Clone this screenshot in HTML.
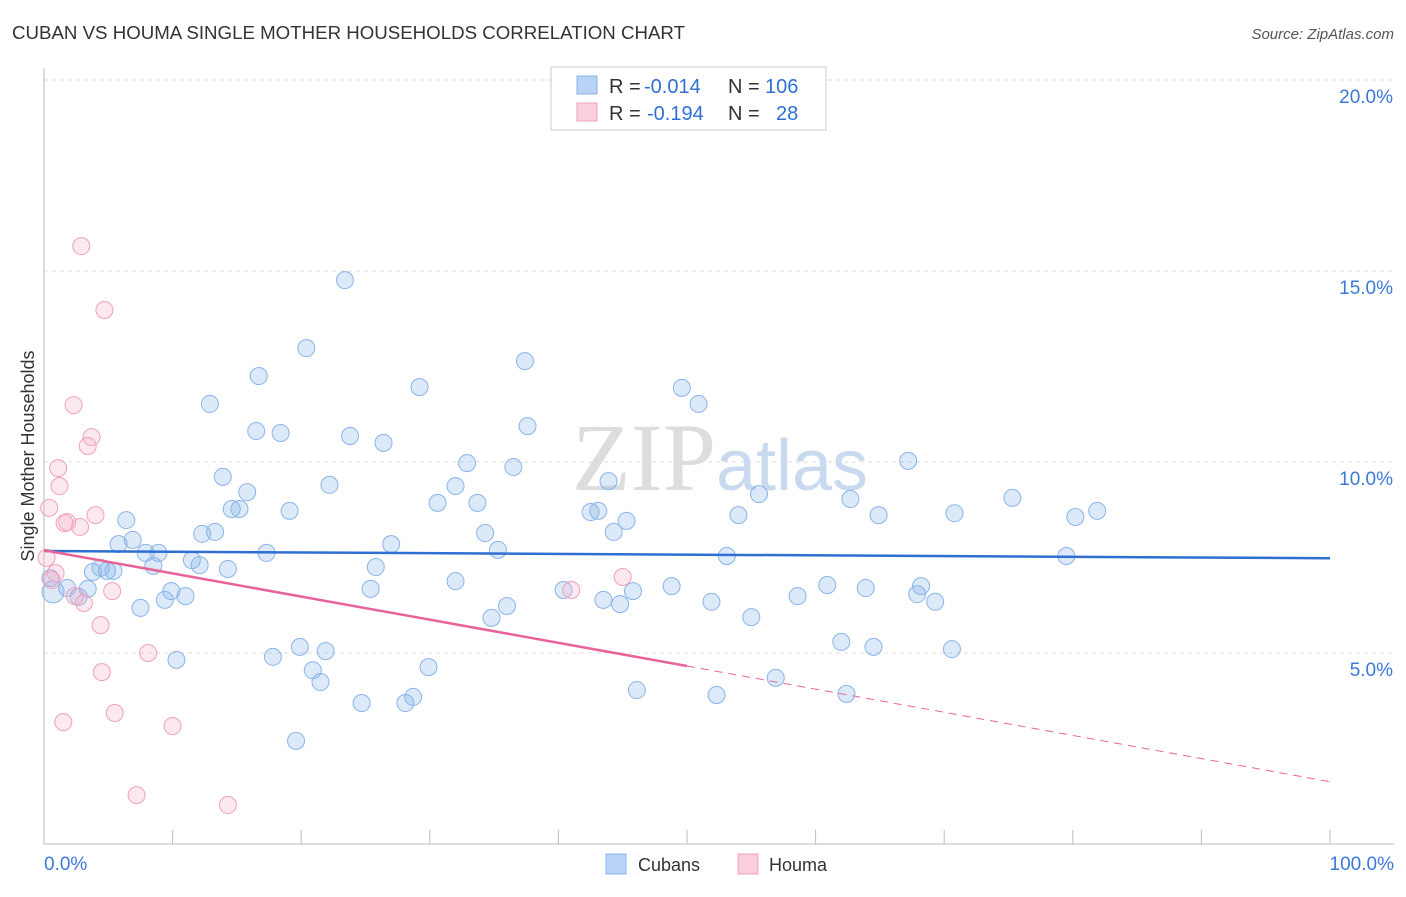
<!DOCTYPE html>
<html><head><meta charset="utf-8"><style>
body{margin:0;background:#fff;font-family:"Liberation Sans",sans-serif;}
</style></head><body>
<svg width="1406" height="892" xmlns="http://www.w3.org/2000/svg" font-family="Liberation Sans, sans-serif">
<text x="12" y="39" font-size="18" fill="#333" textLength="673" lengthAdjust="spacingAndGlyphs">CUBAN VS HOUMA SINGLE MOTHER HOUSEHOLDS CORRELATION CHART</text>
<text x="1394" y="39" font-size="15" fill="#555" text-anchor="end" font-style="italic">Source: ZipAtlas.com</text>
<g id="grid"></g>
<text x="720" y="490" font-size="96" text-anchor="middle" fill="#ddd" font-family="Liberation Serif, serif">ZIP<tspan fill="#c9daf0" font-family="Liberation Sans, sans-serif" font-size="72">atlas</tspan></text>
<line x1="44" y1="844" x2="1394" y2="844" stroke="#bbb"/>
<line x1="44" y1="68" x2="44" y2="844" stroke="#bbb"/>
<text transform="translate(34,456) rotate(-90)" font-size="18" fill="#333" text-anchor="middle">Single Mother Households</text>
<text x="44" y="870" font-size="19" fill="#3b78d8">0.0%</text>
<text x="1394" y="870" font-size="19" fill="#3b78d8" text-anchor="end">100.0%</text>
<g id="points"></g>
<g id="lines"></g>
<g font-size="20">
<rect x="551" y="67" width="275" height="63" fill="#fff" stroke="#ccc"/>
<rect x="577" y="76" width="20" height="18" fill="#b8d3f5" stroke="#8ab4e8"/>
<rect x="577" y="103" width="20" height="18" fill="#fbd0de" stroke="#f0a0bc"/>
<text x="609" y="93" fill="#333">R =</text>
<text x="644" y="93" fill="#2f6fd4">-0.014</text>
<text x="728" y="93" fill="#333">N =</text>
<text x="765" y="93" fill="#2f6fd4">106</text>
<text x="609" y="120" fill="#333">R =</text>
<text x="647" y="120" fill="#2f6fd4">-0.194</text>
<text x="728" y="120" fill="#333">N =</text>
<text x="776" y="120" fill="#2f6fd4">28</text>
</g>
<g>
<rect x="606" y="854" width="20" height="20" fill="#b8d3f5" stroke="#8ab4e8"/>
<text x="638" y="871" font-size="18" fill="#333">Cubans</text>
<rect x="738" y="854" width="20" height="20" fill="#fbd0de" stroke="#f0a0bc"/>
<text x="769" y="871" font-size="18" fill="#333">Houma</text>
</g>
</svg>
<script>
const yTicks=[5,10,15,20];
const yTickLabels=["5.0%","10.0%","15.0%","20.0%"];
const cubanX=[23.4,20.4,16.7,37.4,29.2,49.6,50.9,12.9,37.6,16.5,18.4,23.8,26.4,32.9,36.5,67.2,13.9,22.2,32.0,43.9,15.8,55.6,62.7,75.3,30.6,33.7,14.6,15.2,19.1,42.5,43.1,54.0,64.9,70.8,81.9,80.2,6.4,45.3,44.3,12.3,13.3,34.3,6.9,5.8,27.0,7.9,8.9,17.3,35.3,53.1,79.5,11.5,8.5,12.1,14.3,25.8,3.8,4.4,4.9,5.4,0.5,1.8,3.4,32.0,9.9,25.4,40.4,45.8,48.8,60.9,63.9,68.2,67.9,0.7,2.7,11.0,9.4,7.5,36.0,43.5,44.8,51.9,58.6,69.3,34.8,55.0,62.0,64.5,70.6,19.9,21.9,10.3,17.8,20.9,29.9,21.5,56.9,46.1,52.3,62.4,24.7,28.1,28.7,19.6];
const cubanY=[14.76,12.98,12.25,12.64,11.96,11.94,11.52,11.52,10.94,10.81,10.76,10.68,10.50,9.97,9.87,10.03,9.61,9.40,9.37,9.50,9.21,9.16,9.03,9.06,8.93,8.93,8.77,8.77,8.72,8.69,8.72,8.61,8.61,8.66,8.72,8.56,8.48,8.46,8.17,8.12,8.17,8.14,7.96,7.85,7.85,7.62,7.62,7.62,7.70,7.54,7.54,7.43,7.28,7.30,7.20,7.25,7.12,7.23,7.15,7.15,6.96,6.70,6.68,6.88,6.62,6.68,6.65,6.62,6.75,6.78,6.70,6.75,6.54,6.60,6.47,6.49,6.39,6.18,6.23,6.39,6.28,6.34,6.49,6.34,5.92,5.94,5.29,5.16,5.10,5.16,5.05,4.82,4.90,4.55,4.63,4.24,4.35,4.03,3.90,3.93,3.69,3.69,3.85,2.70];
const houmaX=[2.9,4.7,2.3,3.7,3.4,1.1,1.2,0.4,4.0,1.8,1.6,2.8,0.2,0.9,0.6,2.4,3.1,5.3,4.4,8.1,4.5,1.5,5.5,10.0,7.2,14.3,45.0,41.0];
const houmaY=[15.65,13.98,11.49,10.65,10.42,9.84,9.37,8.80,8.61,8.43,8.40,8.30,7.49,7.09,6.91,6.49,6.31,6.62,5.73,5.00,4.50,3.19,3.43,3.09,1.28,1.02,6.99,6.65];
const cubanTrend=[7.67,7.48];
const houmaTrend=[7.69,1.63];
const NS='http://www.w3.org/2000/svg';
const sx=v=>44+v*12.86, sy=v=>844-v*38.2;
function mk(tag,attrs,parent){const e=document.createElementNS(NS,tag);for(const k in attrs)e.setAttribute(k,attrs[k]);parent.appendChild(e);return e;}
const grid=document.getElementById('grid');
yTicks.forEach((t,i)=>{
 const l=mk('line',{x1:44,x2:1394,y1:sy(t),y2:sy(t),stroke:'#ddd','stroke-dasharray':'4,4'},grid);
 
 
 const tx=mk('text',{x:1393,y:sy(t)+23,'font-size':19,fill:'#3b78d8','text-anchor':'end'},grid);
 tx.textContent=yTickLabels[i];
 
 
});
for(let i=0;i<=10;i++){
 const l=mk('line',{x1:sx(i*10),x2:sx(i*10),y1:830,y2:844,stroke:'#bbb'},grid);
 
 
}
const pts=document.getElementById('points');
cubanX.forEach((x,i)=>{
 const c=mk('circle',{cx:sx(x),cy:sy(cubanY[i]),r:(i==73?11:8.5),fill:'rgba(130,175,235,0.28)',stroke:'#8ab4e8','stroke-width':1},pts);
 
 
});
houmaX.forEach((x,i)=>{
 const c=mk('circle',{cx:sx(x),cy:sy(houmaY[i]),r:8.5,fill:'rgba(245,175,200,0.28)',stroke:'#f0a0bc','stroke-width':1},pts);
 
 
});
const ln=document.getElementById('lines');
const bl=mk('line',{x1:sx(0),y1:sy(cubanTrend[0]),x2:sx(100),y2:sy(cubanTrend[1]),stroke:'#2f6fd4','stroke-width':2.5},ln);


const hm=houmaTrend[0]+(houmaTrend[1]-houmaTrend[0])*0.5;
const pl=mk('line',{x1:sx(0),y1:sy(houmaTrend[0]),x2:sx(50),y2:sy(hm),stroke:'#e8639a','stroke-width':2.5},ln);


const pd=mk('line',{x1:sx(50),y1:sy(hm),x2:sx(100),y2:sy(houmaTrend[1]),stroke:'#e8639a','stroke-width':1,'stroke-dasharray':'8,6'},ln);


</script>
</body></html>
